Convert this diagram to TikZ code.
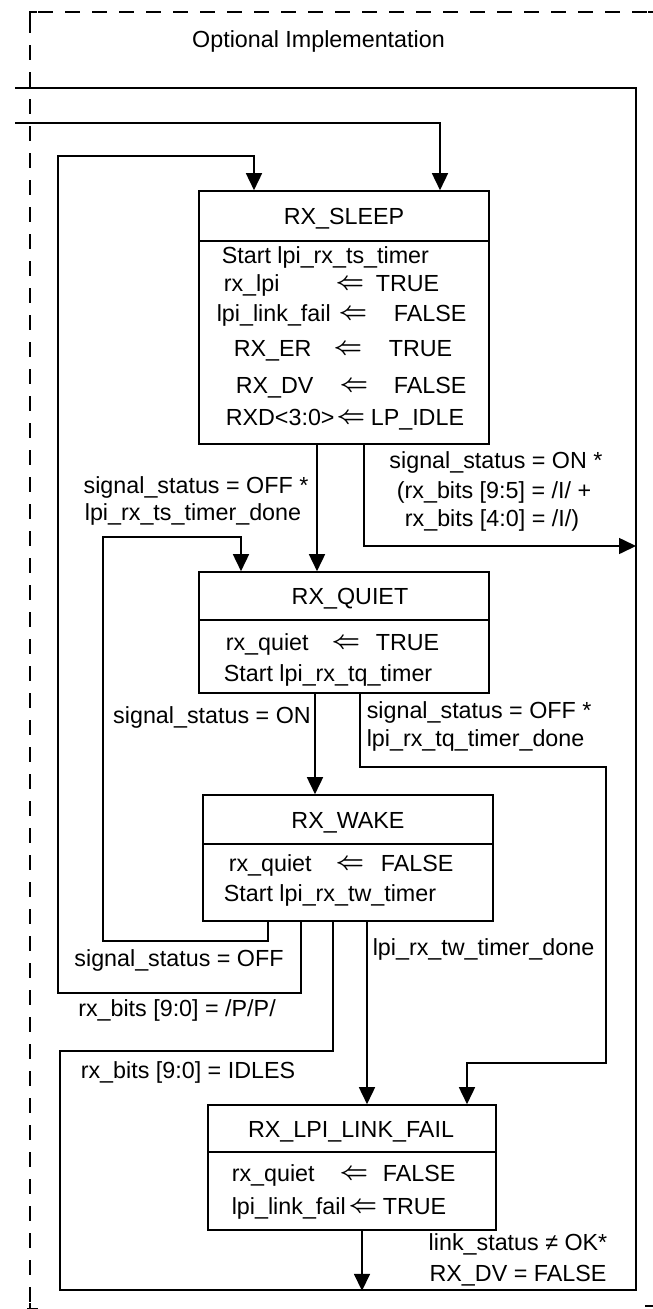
\documentclass[tikz,border=0pt]{standalone}
\usepackage{fontspec}
\setmainfont{Liberation Sans}
\usetikzlibrary{arrows.meta}
\newcommand{\fsz}{\fontsize{23.3}{28}\selectfont}
\newcommand{\lgets}{{\boldmath$\Leftarrow$}}
\begin{document}
\begin{tikzpicture}[x=1pt,y=-1pt,line width=1.6pt,
  box/.style={draw,inner sep=0pt,line width=1.6pt},
  txt/.style={inner sep=0pt,text height=16.7pt,text depth=0pt,anchor=west,font=\fsz},
  ctr/.style={txt,anchor=center},
  larr/.style={inner sep=0pt,anchor=center,font=\fsz,yshift=-2pt},
  arr/.style={-{Triangle[length=17pt,width=16pt]}},
  frameh/.style={line width=1.5pt,dash pattern=on 15pt off 12pt},
  framev/.style={line width=1.5pt,dash pattern=on 15pt off 12pt}]
\useasboundingbox (0,0) rectangle (653,1309);

% dashed frame
\draw[frameh] (38,12) -- (652,12);
\draw[framev] (30,18) -- (30,1302);
\draw[line width=1.8pt] (30,19) -- (30,12) -- (37,12);
\draw[line width=1.8pt] (648,12) -- (653,12);
\draw[line width=1.5pt] (30,1303) -- (30,1309);
\draw[line width=1.5pt] (27,1308.5) -- (38,1308.5);
\draw[line width=1.5pt] (645,1306) -- (653,1306);
\node[ctr] (opt) at (318.5,39) {Optional Implementation};

% states
\node[box,minimum width=290pt,minimum height=253pt] (sleep) at (344,317.5) {};
\node[box,minimum width=290pt,minimum height=121pt] (quiet) at (344,632.5) {};
\node[box,minimum width=290pt,minimum height=126pt] (wake) at (348,858) {};
\node[box,minimum width=288pt,minimum height=125pt] (fail) at (352,1167.5) {};

\draw (sleep.west |- 0,241) -- (sleep.east |- 0,241);
\draw (quiet.west |- 0,620) -- (quiet.east |- 0,620);
\draw (wake.west |- 0,844) -- (wake.east |- 0,844);
\draw (fail.west |- 0,1152) -- (fail.east |- 0,1152);

\node[ctr] (sleepT) at (344,216) {RX\_SLEEP};
\node[ctr] (quietT) at (350,596) {RX\_QUIET};
\node[ctr] (wakeT) at (348,820) {RX\_WAKE};
\node[ctr] (failT) at (351,1129) {RX\_LPI\_LINK\_FAIL};

% RX_SLEEP actions
\node[txt] (s1) at (221,255) {Start lpi\_rx\_ts\_timer};
\node[txt] (s2a) at (223,283) {rx\_lpi};
\node[larr] (s2b) at (350,283) {\lgets};
\node[txt] (s2c) at (375,283) {TRUE};
\node[txt] (s3a) at (216,313) {lpi\_link\_fail};
\node[larr] (s3b) at (353,313) {\lgets};
\node[txt] (s3c) at (393,313) {FALSE};
\node[txt] (s4a) at (233,348) {RX\_ER};
\node[larr] (s4b) at (348,348) {\lgets};
\node[txt] (s4c) at (388,348) {TRUE};
\node[txt] (s5a) at (235,385) {RX\_DV};
\node[larr] (s5b) at (354,385) {\lgets};
\node[txt] (s5c) at (393,385) {FALSE};
\node[txt] (s6a) at (225,417) {RXD<3:0>};
\node[larr] (s6b) at (351,417) {\lgets};
\node[txt] (s6c) at (370,417) {LP\_IDLE};

% RX_QUIET actions
\node[txt] (q1a) at (225,642) {rx\_quiet};
\node[larr] (q1b) at (346,642) {\lgets};
\node[txt] (q1c) at (375,642) {TRUE};
\node[txt] (q2) at (223,673) {Start lpi\_rx\_tq\_timer};

% RX_WAKE actions
\node[txt] (w1a) at (228,863) {rx\_quiet};
\node[larr] (w1b) at (350,863) {\lgets};
\node[txt] (w1c) at (380,863) {FALSE};
\node[txt] (w2) at (223,893) {Start lpi\_rx\_tw\_timer};

% RX_LPI_LINK_FAIL actions
\node[txt] (f1a) at (231,1173) {rx\_quiet};
\node[larr] (f1b) at (354,1173) {\lgets};
\node[txt] (f1c) at (382,1173) {FALSE};
\node[txt] (f2a) at (231,1206) {lpi\_link\_fail};
\node[larr] (f2b) at (363,1206) {\lgets};
\node[txt] (f2c) at (382,1206) {TRUE};

% transition labels
\node[ctr] (l1) at (496,460) {signal\_status = ON *};
\node[ctr] (l2) at (494,490) {(rx\_bits [9:5] = /I/ +};
\node[ctr] (l3) at (492,518) {rx\_bits [4:0] = /I/)};
\node[ctr] (l4) at (196,485) {signal\_status = OFF *};
\node[ctr] (l5) at (193,512) {lpi\_rx\_ts\_timer\_done};
\node[ctr] (l6) at (212,715) {signal\_status = ON};
\node[txt] (l7) at (366,710) {signal\_status = OFF *};
\node[txt] (l8) at (366,738) {lpi\_rx\_tq\_timer\_done};
\node[txt] (l9) at (372,947) {lpi\_rx\_tw\_timer\_done};
\node[ctr] (l10) at (179,958) {signal\_status = OFF};
\node[ctr] (l11) at (177,1008) {rx\_bits [9:0] = /P/P/};
\node[ctr] (l12) at (188,1070) {rx\_bits [9:0] = IDLES};
\node[ctr] (l13) at (518,1242) {link\_status ≠ OK*};
\node[ctr] (l14) at (518,1273) {RX\_DV = FALSE};

% connectors
\coordinate (exitL) at (15,88);
\coordinate (entryL) at (15,123);
\coordinate (onR) at (636,546);

\draw[arr] (entryL) -| ([xshift=96pt]sleep.north);
\draw[arr] ([xshift=-47pt]wake.south) |- (58,993) |- (254,156) -- ([xshift=-90pt]sleep.north);
\draw[arr] ([xshift=-27pt]sleep.south) -- ([xshift=-27pt]quiet.north);
\draw[arr] ([xshift=20pt]sleep.south) |- (onR);
\draw[arr] ([xshift=-80pt]wake.south) |- (103,941) |- (241,537) -- ([xshift=-103pt]quiet.north);
\draw[arr] ([xshift=-29pt]quiet.south) -- ([xshift=-33pt]wake.north);
\draw[arr] ([xshift=16pt]quiet.south) |- (606,767) |- (467,1063) -- ([xshift=115pt]fail.north);
\draw[arr] ([xshift=19pt]wake.south) -- ([xshift=15pt]fail.north);
\draw ([xshift=-15pt]wake.south) |- (60,1051) |- (636,1290) |- (exitL);
\draw[arr] ([xshift=10pt]fail.south) -- ++(0,60);
\end{tikzpicture}
\end{document}
